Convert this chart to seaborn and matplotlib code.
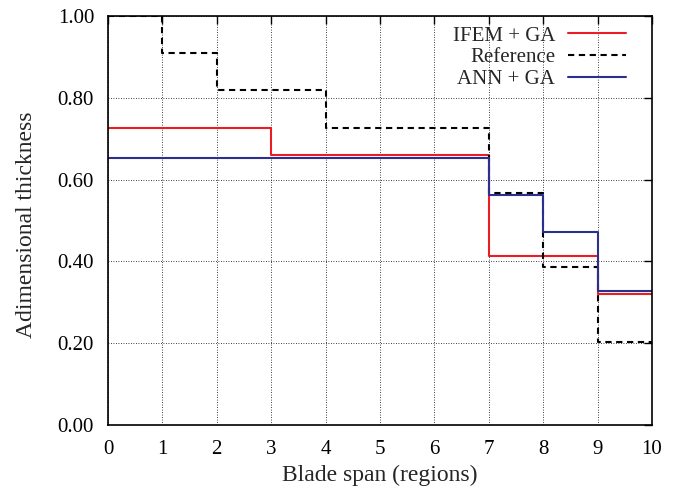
import numpy as np
import pandas as pd
import matplotlib
matplotlib.use("Agg")
import matplotlib.pyplot as plt
import seaborn as sns

# Region edges (blade span) and per-region values (last value repeated for the final edge)
span = [0, 1, 2, 3, 4, 5, 6, 7, 8, 9, 10]
ifem_ga = [0.725, 0.725, 0.725, 0.661, 0.661, 0.661, 0.661, 0.413, 0.413, 0.321, 0.321]
reference = [1.000, 0.909, 0.818, 0.818, 0.727, 0.727, 0.727, 0.568, 0.386, 0.203, 0.203]
ann_ga = [0.654, 0.654, 0.654, 0.654, 0.654, 0.654, 0.654, 0.562, 0.471, 0.327, 0.327]
series_names = ["IFEM + GA", "Reference", "ANN + GA"]
x_ticks = list(range(0, 11))
y_ticks = [0.0, 0.2, 0.4, 0.6, 0.8, 1.0]

df = pd.DataFrame({
    "span": span * 3,
    "thickness": ifem_ga + reference + ann_ga,
    "series": [series_names[0]] * len(span) + [series_names[1]] * len(span) + [series_names[2]] * len(span),
})

sns.set_style("white")
plt.rcParams["font.family"] = ["Liberation Serif", "DejaVu Serif"]

fig = plt.figure(figsize=(6.77, 4.91), dpi=100)
ax = fig.add_axes([108 / 677, 66 / 491, 544 / 677, 409 / 491])

palette = {"IFEM + GA": "#ec1c24", "Reference": "#000000", "ANN + GA": "#2b2f8e"}
dashes = {"IFEM + GA": "", "Reference": (3, 2.2), "ANN + GA": ""}
sns.lineplot(data=df, x="span", y="thickness", hue="series", style="series",
             hue_order=series_names, style_order=series_names,
             palette=palette, dashes=dashes, drawstyle="steps-post",
             linewidth=1.5, ax=ax, legend=True, estimator=None, sort=False)

ax.set_xlim(0, 10)
ax.set_ylim(0, 1.0)
ax.set_xticks(x_ticks)
ax.set_yticks(y_ticks)
ax.set_yticklabels([f"{v:.2f}" for v in y_ticks])
ax.grid(True, color="black", linestyle=(0, (1, 2)), linewidth=0.6)
ax.tick_params(axis="both", direction="in", length=6, width=1, top=True, right=True,
               labelsize=15, colors="black")
ax.tick_params(axis="x", pad=11)
ax.tick_params(axis="y", pad=10)
for s in ax.spines.values():
    s.set_visible(True)
    s.set_color("black")
    s.set_linewidth(1.2)

ax.set_xlabel("Blade span (regions)", fontsize=17)
ax.set_ylabel("Adimensional thickness", fontsize=17)
ax.xaxis.set_label_coords(0.5, -0.098)
ax.yaxis.set_label_coords(-0.13, 0.49)

leg = ax.legend(loc="upper right", frameon=False, markerfirst=False,
                fontsize=15, handlelength=2.8, handletextpad=0.62,
                labelspacing=0.1, borderaxespad=0.0, bbox_to_anchor=(0.968, 0.996))

fig.savefig("out.png", dpi=100)
